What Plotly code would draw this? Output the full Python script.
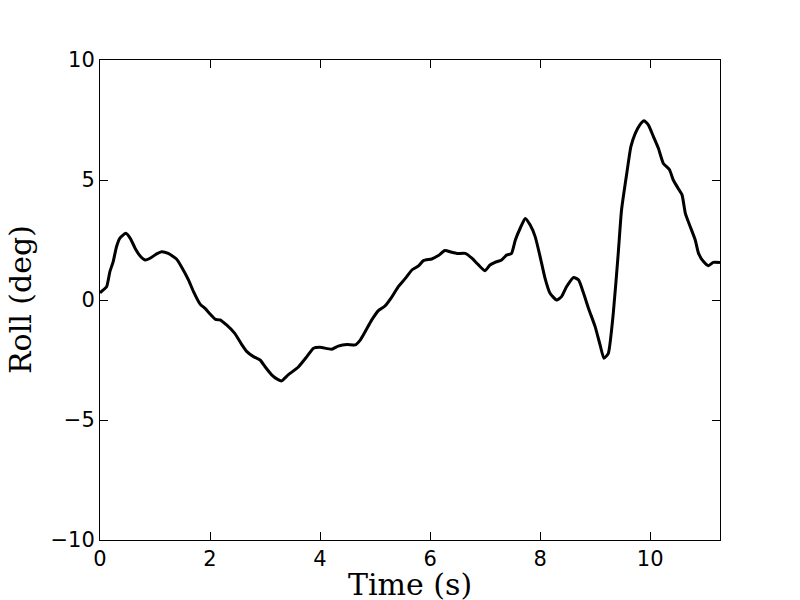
import plotly.graph_objects as go

# roll angle trace
time_s = [0.0, 0.05, 0.12, 0.18, 0.24, 0.30, 0.36, 0.47, 0.55, 0.64, 0.73, 0.82, 0.91,
          1.03, 1.12, 1.24, 1.39, 1.48, 1.61, 1.70, 1.82, 1.91, 2.00, 2.10, 2.18, 2.30,
          2.45, 2.58, 2.67, 2.79, 2.91, 3.00, 3.12, 3.23, 3.30, 3.42, 3.61, 3.76, 3.88,
          4.00, 4.21, 4.33, 4.49, 4.64, 4.73, 4.82, 4.94, 5.06, 5.18, 5.30, 5.42, 5.55,
          5.67, 5.79, 5.88, 6.03, 6.15, 6.27, 6.39, 6.49, 6.64, 6.76, 6.88, 7.00, 7.09,
          7.18, 7.30, 7.39, 7.48, 7.55, 7.64, 7.73, 7.82, 7.91, 8.00, 8.09, 8.18, 8.30,
          8.39, 8.48, 8.61, 8.70, 8.79, 8.88, 9.00, 9.09, 9.16, 9.24, 9.33, 9.42, 9.48,
          9.58, 9.65, 9.73, 9.81, 9.89, 9.97, 10.06, 10.15, 10.24, 10.35, 10.42, 10.51,
          10.58, 10.64, 10.73, 10.82, 10.88, 10.97, 11.06, 11.15, 11.27]
roll_deg = [0.30, 0.40, 0.55, 1.18, 1.60, 2.22, 2.57, 2.78, 2.57, 2.15, 1.83, 1.67, 1.74,
            1.92, 2.01, 1.94, 1.71, 1.39, 0.83, 0.35, -0.17, -0.35, -0.58, -0.81, -0.83,
            -1.04, -1.39, -1.87, -2.15, -2.36, -2.50, -2.78, -3.12, -3.31, -3.37, -3.12,
            -2.78, -2.36, -2.01, -1.97, -2.05, -1.92, -1.85, -1.87, -1.67, -1.32, -0.83,
            -0.44, -0.25, 0.11, 0.55, 0.90, 1.25, 1.42, 1.64, 1.71, 1.85, 2.06, 1.99, 1.94,
            1.94, 1.74, 1.46, 1.22, 1.46, 1.57, 1.67, 1.87, 1.94, 2.50, 3.00, 3.40, 3.12,
            2.64, 1.81, 0.90, 0.28, 0.00, 0.14, 0.55, 0.94, 0.83, 0.28, -0.35, -1.11, -1.87,
            -2.43, -2.22, -0.56, 1.94, 3.75, 5.35, 6.39, 6.94, 7.29, 7.47, 7.29, 6.81, 6.32,
            5.69, 5.44, 5.00, 4.65, 4.38, 3.61, 3.05, 2.50, 1.94, 1.60, 1.43, 1.57, 1.56]

x_ticks = [0, 2, 4, 6, 8, 10]
y_ticks = [-10, -5, 0, 5, 10]

fig = go.Figure(go.Scatter(
    x=time_s, y=roll_deg, mode="lines",
    line=dict(color="black", width=3, shape="spline", smoothing=0.5),
))

axis_style = dict(
    showgrid=False, zeroline=False, showline=True, linecolor="black", linewidth=1,
    mirror="ticks", ticks="inside", ticklen=8, tickcolor="black",
    tickfont=dict(family="DejaVu Sans", size=21, color="black"),
)
fig.update_xaxes(range=[0, 11.27], tickvals=x_ticks, **axis_style)
fig.update_yaxes(range=[-10, 10], tickvals=y_ticks, **axis_style)

# axis titles as annotations so they sit exactly where the reference has them
title_font = dict(family="DejaVu Serif", size=30, color="black")
fig.add_annotation(text="Time (s)", xref="paper", yref="paper", x=0.5, y=0,
                   xanchor="center", yanchor="middle", yshift=-44,
                   showarrow=False, font=title_font)
fig.add_annotation(text="Roll (deg)", xref="paper", yref="paper", x=0, y=0.5,
                   xanchor="center", yanchor="middle", xshift=-80, textangle=-90,
                   showarrow=False, font=title_font)

# page body has an 8px margin, so shrink the figure to land the axes where the reference has them
fig.update_layout(
    width=792, height=592,
    margin=dict(l=92, r=80, t=52, b=60),
    plot_bgcolor="white", paper_bgcolor="white",
    showlegend=False,
)

fig.write_html("out.html")
